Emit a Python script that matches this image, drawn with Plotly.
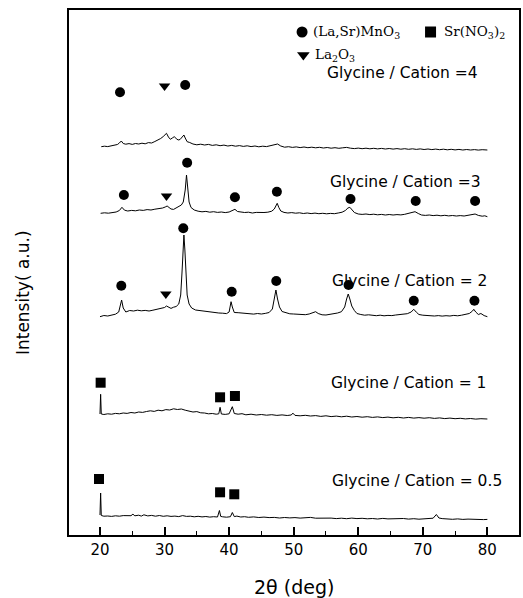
import plotly.graph_objects as go

# ---------------- data (2theta in deg, intensity in arbitrary units) ----------------
tt_05 = [20.0, 20.1, 20.2, 20.6, 21.2, 21.8, 22.4, 23.0, 23.6, 24.2, 24.8, 25.1, 25.4, 26.0, 26.4, 26.8,
         27.4, 28.0, 28.6, 29.2, 29.8, 30.4, 31.0, 31.6, 32.2, 32.8, 33.4, 34.0, 34.6, 35.2, 35.8, 36.4,
         37.0, 37.6, 38.2, 38.5, 38.7, 39.0, 39.6, 40.2, 40.5, 40.8, 41.2, 41.8, 42.4, 43.0, 43.8, 44.6,
         45.4, 46.2, 47.0, 47.8, 48.6, 49.4, 50.2, 51.0, 51.8, 52.6, 53.4, 54.2, 55.0, 55.8, 56.6, 57.4,
         58.2, 59.0, 59.8, 60.6, 61.4, 62.2, 63.0, 63.8, 64.6, 65.4, 66.2, 67.0, 67.8, 68.6, 69.4, 70.2,
         71.0, 71.6, 72.1, 72.5, 73.0, 73.8, 74.6, 75.4, 76.2, 77.0, 77.8, 78.6, 79.4, 80.0]
int_05 = [20.0, 42.0, 19.5, 18.8, 19.0, 18.6, 19.2, 18.8, 19.4, 19.0, 19.3, 20.8, 19.2, 19.8, 18.9, 20.2,
          19.1, 19.6, 18.8, 19.5, 18.7, 19.2, 18.6, 18.9, 18.4, 19.4, 18.6, 18.8, 18.2, 18.7, 18.1, 18.5,
          17.9, 18.3, 18.0, 24.5, 18.6, 18.2, 17.8, 18.3, 22.5, 18.4, 18.9, 18.0, 18.3, 17.7, 18.1, 17.5,
          17.9, 17.4, 17.6, 17.0, 17.5, 17.1, 17.4, 16.9, 17.2, 17.6, 16.8, 17.0, 16.5, 16.9, 16.4, 16.8,
          16.3, 16.9, 16.4, 16.7, 16.2, 16.5, 16.0, 16.6, 16.1, 16.4, 16.0, 16.5, 15.9, 16.3, 15.8, 16.2,
          16.0, 16.8, 20.5, 17.0, 16.4, 16.0, 15.7, 16.1, 15.6, 15.9, 15.5, 15.8, 15.4, 15.6]

tt_1 = [20.0, 20.1, 20.2, 20.6, 21.2, 21.8, 22.4, 23.0, 23.6, 24.2, 24.8, 25.4, 26.0, 26.6, 27.2, 27.8,
        28.4, 29.0, 29.6, 30.2, 30.8, 31.4, 32.0, 32.6, 33.2, 33.8, 34.4, 35.0, 35.6, 36.2, 36.8, 37.4,
        38.0, 38.4, 38.6, 38.8, 39.4, 40.0, 40.5, 40.8, 41.4, 42.0, 42.6, 43.4, 44.2, 45.0, 45.8, 46.6,
        47.4, 48.2, 49.0, 49.6, 49.9, 50.2, 51.0, 51.8, 52.6, 53.4, 54.2, 55.0, 55.8, 56.6, 57.4, 58.2,
        59.0, 59.8, 60.6, 61.4, 62.2, 63.0, 63.8, 64.6, 65.4, 66.2, 67.0, 67.8, 68.6, 69.4, 70.2, 71.0,
        71.8, 72.6, 73.4, 74.2, 75.0, 75.8, 76.6, 77.4, 78.2, 79.0, 80.0]
int_1 = [121.0, 140.7, 121.0, 120.5, 121.2, 120.8, 121.6, 121.2, 122.0, 121.6, 122.5, 122.0, 123.0, 122.6, 123.5, 124.2,
         123.6, 124.8, 124.2, 125.4, 125.0, 126.2, 125.5, 126.0, 124.8, 124.2, 123.0, 123.4, 122.2, 122.0, 121.2, 121.5,
         120.8, 121.2, 127.7, 121.0, 120.6, 121.2, 128.3, 121.5, 120.8, 121.3, 120.2, 120.8, 120.0, 120.5, 119.8, 120.3,
         119.6, 120.1, 119.5, 120.0, 121.8, 119.6, 119.2, 119.7, 119.0, 119.4, 118.6, 119.2, 118.4, 118.9, 118.2, 118.8,
         118.0, 118.5, 117.8, 118.3, 117.6, 118.1, 117.4, 117.9, 117.2, 117.7, 117.0, 117.6, 116.9, 117.4, 116.8, 117.3,
         116.6, 117.1, 116.4, 116.9, 116.3, 116.7, 116.1, 116.5, 115.9, 116.3, 116.0]

tt_2 = [20.0, 20.6, 21.2, 21.8, 22.4, 22.9, 23.2, 23.35, 23.6, 24.0, 24.6, 25.2, 25.8, 26.4, 27.0, 27.6,
        28.2, 28.8, 29.4, 30.0, 30.3, 30.7, 31.0, 31.4, 31.8, 32.2, 32.5, 32.7, 32.9, 33.0, 33.15, 33.3,
        33.5, 33.8, 34.2, 34.8, 35.4, 36.0, 36.6, 37.2, 37.8, 38.4, 39.0, 39.6, 40.0, 40.3, 40.5, 40.8,
        41.4, 42.0, 42.6, 43.2, 43.8, 44.4, 45.0, 45.6, 46.2, 46.7, 47.0, 47.25, 47.5, 47.8, 48.2, 48.8,
        49.4, 50.0, 50.6, 51.2, 51.8, 52.4, 53.0, 53.4, 53.8, 54.4, 55.0, 55.6, 56.2, 56.8, 57.4, 57.9,
        58.2, 58.45, 58.7, 59.0, 59.4, 59.8, 60.4, 61.0, 61.6, 62.2, 62.8, 63.4, 64.0, 64.6, 65.2, 65.8,
        66.4, 67.0, 67.6, 68.2, 68.6, 69.0, 69.4, 70.0, 70.6, 71.2, 71.8, 72.4, 73.0, 73.6, 74.2, 74.8,
        75.4, 76.0, 76.6, 77.2, 77.7, 77.9, 78.2, 78.6, 79.0, 79.5, 80.0]
int_2 = [218.3, 219.5, 219.0, 220.2, 220.8, 223.0, 230.0, 235.0, 227.0, 223.0, 224.5, 224.0, 224.8, 224.2, 224.6, 224.0,
         224.8, 225.6, 226.0, 227.5, 229.0, 227.5, 226.6, 227.8, 228.5, 231.0, 240.0, 262.0, 290.0, 300.0, 285.0, 258.0,
         240.0, 231.0, 227.0, 225.0, 224.4, 223.8, 223.5, 222.8, 222.6, 222.0, 221.8, 221.4, 223.0, 233.3, 228.0, 222.5,
         222.3, 222.0, 221.4, 221.2, 220.9, 221.5, 221.0, 221.6, 222.5, 226.0, 235.0, 245.0, 236.0, 228.0, 223.5, 222.0,
         221.2, 221.0, 220.6, 220.9, 220.3, 221.0, 222.2, 223.3, 221.5, 220.2, 220.0, 220.5, 221.0, 222.0, 223.3, 228.0,
         236.0, 241.0, 236.0, 229.0, 224.5, 221.5, 220.5, 219.8, 220.2, 219.5, 219.3, 219.8, 219.2, 219.6, 219.4, 220.0,
         220.4, 220.6, 221.3, 223.0, 225.7, 222.8, 220.5, 219.8, 219.4, 219.7, 219.0, 219.4, 218.9, 219.3, 219.0, 219.6,
         219.2, 219.8, 220.4, 221.5, 224.0, 225.7, 223.0, 220.5, 221.5, 219.4, 218.3]

tt_3 = [20.1, 20.7, 21.3, 21.9, 22.5, 23.0, 23.4, 23.8, 24.3, 24.9, 25.5, 26.1, 26.7, 27.3, 27.9, 28.5,
        29.1, 29.7, 30.1, 30.4, 30.7, 31.0, 31.4, 31.8, 32.2, 32.6, 32.9, 33.2, 33.4, 33.6, 33.8, 34.1,
        34.6, 35.2, 35.8, 36.4, 37.0, 37.6, 38.2, 38.8, 39.4, 40.0, 40.5, 40.9, 41.3, 41.8, 42.4, 43.0,
        43.6, 44.2, 44.8, 45.4, 46.0, 46.6, 47.0, 47.2, 47.45, 47.7, 48.0, 48.5, 49.1, 49.7, 50.3, 50.9,
        51.5, 52.1, 52.7, 53.3, 53.9, 54.5, 55.1, 55.7, 56.3, 56.9, 57.5, 58.0, 58.4, 58.7, 59.0, 59.4,
        60.0, 60.6, 61.2, 61.8, 62.4, 63.0, 63.6, 64.2, 64.8, 65.4, 66.0, 66.6, 67.2, 67.8, 68.3, 68.8,
        69.3, 69.8, 70.4, 71.0, 71.6, 72.2, 72.8, 73.4, 74.0, 74.6, 75.2, 75.8, 76.4, 77.0, 77.6, 78.1,
        78.6, 79.2, 79.6, 80.0]
int_3 = [321.7, 322.2, 321.8, 322.6, 323.0, 324.5, 327.7, 324.8, 324.0, 324.6, 324.2, 325.0, 324.6, 325.4, 325.0, 325.8,
         326.2, 327.0, 328.0, 329.0, 327.5, 326.0, 325.6, 327.2, 328.0, 330.0, 333.0, 345.0, 360.0, 345.0, 333.0, 327.5,
         325.0, 323.8, 323.2, 323.6, 322.8, 323.3, 322.6, 323.0, 322.4, 323.0, 324.2, 325.7, 323.5, 323.0, 322.5, 322.8,
         322.0, 322.6, 322.2, 322.5, 322.8, 323.8, 326.0, 329.5, 331.7, 327.5, 324.0, 322.6, 322.0, 322.4, 321.8, 322.2,
         321.5, 322.0, 321.4, 321.9, 321.3, 321.7, 321.2, 321.6, 321.3, 322.0, 322.8, 324.5, 327.0, 327.7, 325.0, 322.5,
         321.0, 320.6, 321.0, 320.4, 320.8, 320.2, 320.6, 320.0, 320.5, 320.0, 320.4, 320.1, 320.7, 321.5, 322.5, 323.3,
         321.5, 320.0, 319.6, 320.0, 319.4, 319.8, 319.2, 319.7, 319.1, 319.5, 319.0, 319.4, 319.0, 319.6, 320.3, 321.0,
         319.6, 318.8, 319.2, 318.3]

tt_4 = [20.2, 20.7, 21.2, 21.7, 22.2, 22.7, 23.0, 23.3, 23.6, 24.0, 24.5, 25.0, 25.5, 26.0, 26.5, 27.0,
        27.5, 28.0, 28.5, 29.0, 29.4, 29.8, 30.1, 30.3, 30.6, 30.9, 31.2, 31.5, 31.8, 32.1, 32.4, 32.7,
        33.0, 33.2, 33.5, 33.9, 34.4, 35.0, 35.6, 36.2, 36.8, 37.4, 38.0, 38.6, 39.2, 39.8, 40.4, 41.0,
        41.6, 42.2, 42.8, 43.4, 44.0, 44.6, 45.2, 45.8, 46.4, 47.0, 47.5, 48.0, 48.6, 49.2, 49.8, 50.4,
        51.0, 51.6, 52.2, 52.8, 53.4, 54.0, 54.6, 55.2, 55.8, 56.4, 57.0, 57.6, 58.2, 58.8, 59.4, 60.0,
        60.6, 61.2, 61.8, 62.4, 63.0, 63.6, 64.2, 64.8, 65.4, 66.0, 66.6, 67.2, 67.8, 68.4, 69.0, 69.6,
        70.2, 70.8, 71.4, 72.0, 72.6, 73.2, 73.8, 74.4, 75.0, 75.6, 76.2, 76.8, 77.4, 78.0, 78.6, 79.2, 80.0]
int_4 = [388.3, 388.8, 388.4, 389.2, 389.6, 390.5, 392.0, 394.0, 391.5, 390.8, 391.4, 390.6, 391.5, 391.0, 391.8, 391.2,
         392.4, 392.0, 393.5, 394.8, 396.5, 398.5, 400.0, 401.7, 398.0, 395.7, 397.0, 398.3, 396.5, 395.0, 395.5, 397.5,
         400.0, 397.0, 393.3, 392.5, 391.0, 390.2, 390.8, 390.0, 390.6, 389.6, 390.2, 389.3, 389.9, 389.0, 389.6, 388.8,
         389.4, 388.6, 389.2, 388.4, 389.0, 388.2, 388.8, 388.4, 389.4, 390.2, 391.0, 389.0, 387.8, 388.3, 387.6, 388.1,
         387.4, 388.0, 387.3, 387.8, 387.2, 387.7, 387.0, 387.5, 386.8, 387.3, 386.7, 387.2, 387.6, 386.8, 386.4, 386.9,
         386.3, 386.8, 386.2, 386.7, 386.1, 386.6, 386.0, 386.5, 385.9, 386.4, 385.8, 386.3, 385.7, 386.2, 385.6, 386.1,
         385.5, 386.0, 385.4, 385.9, 385.3, 385.8, 385.2, 385.7, 385.1, 385.6, 385.0, 385.5, 385.0, 385.4, 384.9, 385.3, 385.0]

# phase markers: (La,Sr)MnO3 circles, La2O3 triangles, Sr(NO3)2 squares
circ_x = [23.3, 32.9, 40.4, 47.3, 58.5, 68.6, 78.0,
          23.7, 33.5, 40.9, 47.4, 58.8, 68.9, 78.1,
          23.1, 33.2]
circ_y = [249.3, 306.7, 243.3, 254.0, 250.0, 234.3, 234.3,
          340.0, 372.3, 337.7, 343.3, 336.0, 334.0, 334.0,
          442.7, 450.0]
tri_x = [30.2, 30.3, 30.0]
tri_y = [241.0, 339.0, 449.0]
sq_x = [19.85, 38.6, 40.8, 20.1, 38.6, 40.9]
sq_y = [56.0, 42.7, 40.7, 152.3, 137.7, 139.0]

# sample labels
labels = ["Glycine / Cation = 0.5", "Glycine / Cation = 1", "Glycine / Cation = 2",
          "Glycine / Cation =3", "Glycine / Cation =4"]
label_x = [55.8, 55.6, 55.8, 55.5, 55.0]
label_y = [54.0, 152.0, 254.0, 353.0, 462.0]

# phase legend
leg_names = ["(La,Sr)MnO<sub>3</sub>", "Sr(NO<sub>3</sub>)<sub>2</sub>", "La<sub>2</sub>O<sub>3</sub>"]
leg_symbols = ["circle", "square", "triangle-down"]
leg_x = [51.3, 71.2, 51.5]
leg_y = [503.0, 503.0, 480.0]
leg_text_x = [52.9, 73.1, 53.1]

x_ticks = [20, 30, 40, 50, 60, 70, 80]
x_minor = [25, 35, 45, 55, 65, 75]

# ---------------- figure ----------------
fig = go.Figure()
for tx, ty in [(tt_05, int_05), (tt_1, int_1), (tt_2, int_2), (tt_3, int_3), (tt_4, int_4)]:
    fig.add_trace(go.Scatter(x=tx, y=ty, mode="lines",
                             line=dict(color="black", width=1), hoverinfo="skip"))

fig.add_trace(go.Scatter(x=circ_x, y=circ_y, mode="markers",
                         marker=dict(symbol="circle", size=10, color="black")))
fig.add_trace(go.Scatter(x=tri_x, y=tri_y, mode="markers",
                         marker=dict(symbol="triangle-down", size=10, color="black")))
fig.add_trace(go.Scatter(x=sq_x, y=sq_y, mode="markers",
                         marker=dict(symbol="square", size=10, color="black")))
for sx, sy, sym in zip(leg_x, leg_y, leg_symbols):
    fig.add_trace(go.Scatter(x=[sx], y=[sy], mode="markers",
                             marker=dict(symbol=sym, size=11, color="black")))

for txt, lx, ly in zip(leg_names, leg_text_x, leg_y):
    fig.add_annotation(x=lx, y=ly, xref="x", yref="y", text=txt, showarrow=False,
                       xanchor="left", yanchor="middle", borderpad=0,
                       font=dict(family="DejaVu Serif", size=13.5, color="black"))

for txt, lx, ly in zip(labels, label_x, label_y):
    fig.add_annotation(x=lx, y=ly, xref="x", yref="y", text=txt, showarrow=False,
                       xanchor="left", yanchor="middle", borderpad=0,
                       font=dict(family="DejaVu Sans", size=15.5, color="black"))

fig.add_annotation(x=-0.102, y=0.461, xref="paper", yref="paper", text="Intensity( a.u.)",
                   textangle=-90, showarrow=False, xanchor="center", yanchor="middle",
                   font=dict(family="DejaVu Sans", size=17, color="black"))
fig.add_annotation(x=0.50, y=-0.099, xref="paper", yref="paper", text="2θ (deg)",
                   showarrow=False, xanchor="center", yanchor="middle",
                   font=dict(family="DejaVu Sans", size=19, color="black"))

fig.update_layout(
    width=523, height=598,
    margin=dict(l=69, r=2, t=10, b=63),
    paper_bgcolor="white", plot_bgcolor="white",
    showlegend=False,
    xaxis=dict(range=[15.2, 84.9], tickmode="array", tickvals=x_ticks,
               ticks="inside", ticklen=8, tickwidth=1.5, tickcolor="black",
               minor=dict(tickvals=x_minor, ticks="inside", ticklen=4, tickwidth=1.2, tickcolor="black"),
               showline=True, linecolor="black", linewidth=1.5, mirror=True,
               showgrid=False, zeroline=False,
               tickfont=dict(family="DejaVu Sans", size=15, color="black")),
    yaxis=dict(range=[0, 525], showticklabels=False, ticks="",
               showline=True, linecolor="black", linewidth=1.5, mirror=True,
               showgrid=False, zeroline=False),
)

fig.write_html("out.html",
               config={"displayModeBar": False},
               post_script="document.body.style.margin='0';document.body.style.overflow='hidden';")
